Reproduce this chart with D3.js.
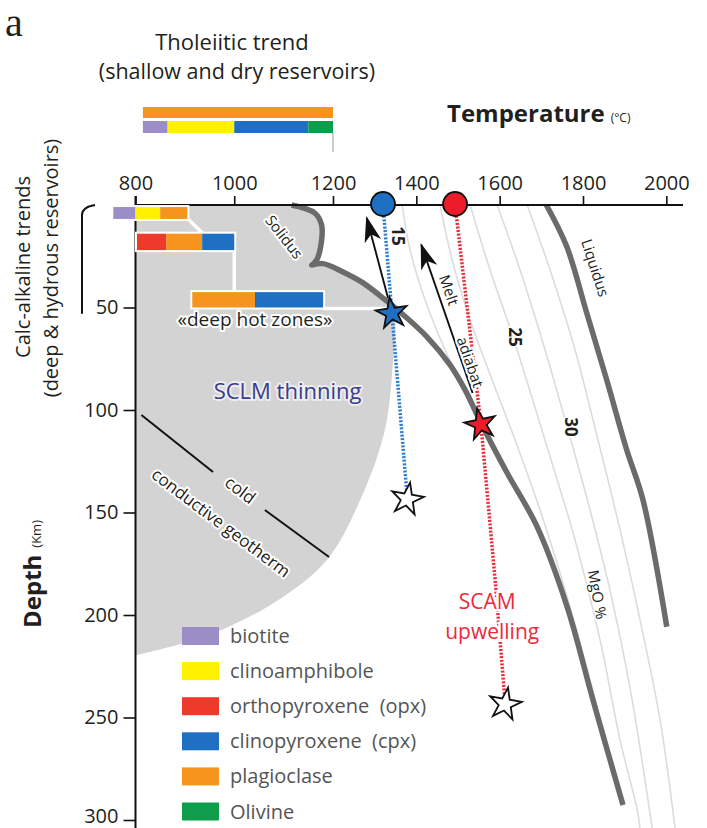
<!DOCTYPE html>
<html><head><meta charset="utf-8">
<script src="https://cdn.jsdelivr.net/npm/d3@7/dist/d3.min.js"></script>
<style>
body{margin:0;background:#fff;}
svg{display:block;font-family:"Open Sans",sans-serif;}
</style></head><body>
<svg id="chart" width="707" height="828"></svg>
<script>
// ---------------- DATA ----------------
const tempTicks = [800, 1000, 1200, 1400, 1600, 1800, 2000];
const depthTicks = [50, 100, 150, 200, 250, 300];

const minerals = ["biotite", "clinoamphibole", "orthopyroxene  (opx)", "clinopyroxene  (cpx)", "plagioclase", "Olivine"];
const mineralColors = ["#9b8ec6", "#fff100", "#ee3a2a", "#1f6fc3", "#f7941d", "#0e9d4b"];

// Tholeiitic trend bars: [mineral index, T start, T end]
const tholeiiticRow1 = [[4, 815, 1200]];
const tholeiiticRow2 = [[0, 815, 865], [1, 865, 1000], [3, 1000, 1150], [5, 1150, 1200]];

// Calc-alkaline bars (depth range in km, segments [mineral, T0, T1])
const calcBarDepths = [[1, 6.8], [14, 22], [42.5, 50]];
const calcBarSegments = [
  [[0, 755, 800], [1, 800, 850], [4, 850, 905]],
  [[2, 803, 862], [4, 862, 935], [3, 935, 1000]],
  [[4, 915, 1042], [3, 1042, 1180]]
];
// white connectors between bars [T, depth]
const connector1 = [[905, 6.5], [935, 13.5]];
const connector2 = [[1000, 22], [1000, 42.5]];
const connector3 = [[1180, 50.5], [1341, 50.5]];

// Solidus [T, depth]: upper branch down to the kink, then the deep branch
const solidusUpper = [[1116, 0], [1163, 3.9], [1177, 9.8], [1175, 20.3], [1167, 26.8], [1157, 29.3]];
const solidusLower = [[1157, 29.3], [1180, 28.6], [1224, 32.7], [1272, 38.0], [1320, 45.4], [1361, 52.2],
  [1426, 64.4], [1481, 78], [1517, 90.2], [1555, 106.3], [1618, 130.7], [1690, 157], [1762, 196],
  [1824, 241.5], [1896, 292.7]];
// Liquidus
const liquidus = [[1712, 0], [1761, 20.3], [1809, 52.7], [1857, 85.4], [1905, 119.5], [1944, 143.9], [2001, 205.7]];

// SCLM (grey) region lower boundary, from solidus crossing down to the axis
const sclmBoundary = [[1345, 51], [1343, 79], [1323, 111], [1265, 144], [1188, 173], [1087, 193], [957, 209], [829, 218], [800, 219.5]];

// MgO isopleths (faint)
const isoA = [[1366, 0], [1385, 22], [1421, 46.3], [1469, 70.7], [1486, 78]];
const isoB = [[1457, 0], [1486, 26.8], [1529, 56.1], [1582, 85.4], [1637, 114.6], [1697, 148.8], [1757, 187.8], [1817, 231.7], [1841, 251.2]];
const isoC = [[1529, 0], [1577, 31.7], [1632, 64.4], [1716, 119.5], [1781, 163.4], [1841, 212.2], [1889, 261], [1930, 295], [1937, 304]];
const isoD = [[1594, 0], [1649, 31.7], [1709, 70.7], [1762, 108.3], [1817, 148.8], [1870, 192.7], [1918, 241.5], [1956, 290.2], [1966, 304]];
const isoE = [[1666, 0], [1721, 31.7], [1781, 70.7], [1836, 114.6], [1889, 158.5], [1937, 202.4], [1985, 251.2], [2021, 304]];

// cold conductive geotherm segments
const geothermSeg1 = [[812, 102.4], [957, 130.2]];
const geothermSeg2 = [[1062, 148.8], [1192, 171.7]];

// SCLM thinning (blue) and SCAM upwelling (red) paths
const bluePath = [[1320, 0], [1378, 142.4]];
const redPath = [[1493, 0], [1555, 107], [1590, 185], [1612, 240]];
const blueCircle = [1320, 0], redCircle = [1493, 0];
const blueStar = [1341, 52.8], redStar = [1554, 107], whiteStar1 = [1378, 143.5], whiteStar2 = [1613, 243.5];

// melt adiabat arrows [from, to]
const arrow1 = [[1332, 45.4], [1281, 6.3]];
const arrow2 = [[1535, 91.7], [1412, 19.5]];

// ---------------- CHART ----------------
const svg = d3.select("#chart");
const x = d3.scaleLinear().domain([800, 1200, 2040]).range([135.5, 333, 683]);
const y = d3.scaleLinear().domain([0, 300]).range([205, 820]);
const line = d3.line().x(d => x(d[0])).y(d => y(d[1]));
const smooth = d3.line().x(d => x(d[0])).y(d => y(d[1])).curve(d3.curveCatmullRom.alpha(0.5));
const cont = p => smooth(p).replace(/^M/, "L");

const defs = svg.append("defs");
defs.append("marker").attr("id", "arrowhead").attr("viewBox", "0 -9 26 18")
  .attr("refX", 24).attr("refY", 0).attr("markerWidth", 26).attr("markerHeight", 18)
  .attr("markerUnits", "userSpaceOnUse").attr("orient", "auto")
  .append("path").attr("d", "M0,-8.5L26,0L0,8.5L7,0Z").attr("fill", "#111");

// grey SCLM region
const lowerToStar = solidusLower.filter(d => d[1] <= 46);
const regionPath = "M" + x(800) + "," + y(0) + cont(solidusUpper) + cont(lowerToStar.concat(sclmBoundary)) + "Z";
svg.append("path").attr("d", regionPath).attr("fill", "#d3d3d3");

// isopleths
[isoA, isoB, isoC, isoD, isoE].forEach(p => {
  svg.append("path").attr("d", smooth(p)).attr("fill", "none").attr("stroke", "#dcdcdc").attr("stroke-width", 1.6);
});

// solidus, liquidus
svg.append("path").attr("d", smooth(solidusUpper) + cont(solidusLower)).attr("fill", "none").attr("stroke", "#6b6b6b").attr("stroke-width", 5.5).attr("stroke-linejoin", "round");
svg.append("path").attr("d", smooth(liquidus)).attr("fill", "none").attr("stroke", "#6b6b6b").attr("stroke-width", 5.5);

// geotherm
[geothermSeg1, geothermSeg2].forEach(s => svg.append("path").attr("d", line(s)).attr("stroke", "#111").attr("stroke-width", 2));

// axes
const xAxis = d3.axisTop(x).tickValues(tempTicks).tickSize(9).tickPadding(6).tickFormat(d3.format("d"));
const gx = svg.append("g").attr("transform", `translate(0,${y(0)})`).call(xAxis);
gx.select(".domain").remove();
gx.append("line").attr("x1", x(800)).attr("x2", x(2040)).attr("y1", 0).attr("y2", 0).attr("stroke", "#111").attr("stroke-width", 2);
gx.selectAll(".tick line").attr("stroke", "#111").attr("stroke-width", 1.6);
gx.selectAll(".tick text").attr("font-size", 20).attr("fill", "#231f20").attr("font-family", "Open Sans");

const yAxis = d3.axisLeft(y).tickValues(depthTicks).tickSize(12).tickPadding(5);
const gy = svg.append("g").attr("transform", `translate(${x(800)},0)`).call(yAxis);
gy.select(".domain").remove();
gy.append("line").attr("x1", 0).attr("x2", 0).attr("y1", y(0) - 9).attr("y2", 828).attr("stroke", "#111").attr("stroke-width", 2);
gy.selectAll(".tick line").attr("stroke", "#111").attr("stroke-width", 1.6);
gy.selectAll(".tick text").attr("font-size", 20).attr("fill", "#231f20").attr("font-family", "Open Sans")
  .attr("dy", d => d === 300 ? "0.1em" : "0.32em");

// white connectors
[connector1, connector2, connector3].forEach(c => svg.append("path").attr("d", line(c)).attr("stroke", "#fff").attr("stroke-width", 3.5).attr("fill", "none"));

// calc-alkaline bars
calcBarSegments.forEach((segs, i) => {
  const [d0, d1] = calcBarDepths[i];
  const g = svg.append("g");
  g.append("rect").attr("x", x(segs[0][1]) - 2).attr("y", y(d0) - 2)
    .attr("width", x(segs[segs.length - 1][2]) - x(segs[0][1]) + 4).attr("height", y(d1) - y(d0) + 4).attr("fill", "#fff");
  segs.forEach(s => g.append("rect").attr("x", x(s[1])).attr("y", y(d0)).attr("width", x(s[2]) - x(s[1]))
    .attr("height", y(d1) - y(d0)).attr("fill", mineralColors[s[0]]));
});

// tholeiitic bars
const thY = [107, 121], thH = [11, 12];
[tholeiiticRow1, tholeiiticRow2].forEach((row, i) => {
  row.forEach(s => svg.append("rect").attr("x", x(s[1])).attr("y", thY[i]).attr("width", x(s[2]) - x(s[1]))
    .attr("height", thH[i]).attr("fill", mineralColors[s[0]]));
});
svg.append("line").attr("x1", x(1200)).attr("x2", x(1200)).attr("y1", 133).attr("y2", 152).attr("stroke", "#999").attr("stroke-width", 1);

// dotted paths
svg.append("path").attr("d", line(bluePath)).attr("fill", "none").attr("stroke", "#2a7dd2").attr("stroke-width", 3.5).attr("stroke-dasharray", "2,1.6");
svg.append("path").attr("d", line(redPath)).attr("fill", "none").attr("stroke", "#ee2a36").attr("stroke-width", 3.5).attr("stroke-dasharray", "2,1.6");

// arrows
[arrow1, arrow2].forEach(a => svg.append("path").attr("d", line(a)).attr("stroke", "#111").attr("stroke-width", 1.9).attr("fill", "none").attr("marker-end", "url(#arrowhead)"));

// circles
svg.append("circle").attr("cx", x(blueCircle[0])).attr("cy", y(blueCircle[1]) - 1).attr("r", 12).attr("fill", "#1f6fc3").attr("stroke", "#111").attr("stroke-width", 1.8);
svg.append("circle").attr("cx", x(redCircle[0])).attr("cy", y(redCircle[1]) - 1).attr("r", 12).attr("fill", "#ec1c2a").attr("stroke", "#111").attr("stroke-width", 1.8);

// stars
const star = d3.symbol().type(d3.symbolStar).size(300);
const starBig = d3.symbol().type(d3.symbolStar).size(320);
function drawStar(p, fill, sym, rot) {
  svg.append("path").attr("d", sym()).attr("transform", `translate(${x(p[0])},${y(p[1])}) rotate(${rot})`)
    .attr("fill", fill).attr("stroke", "#111").attr("stroke-width", 1.8).attr("stroke-linejoin", "miter");
}
drawStar(blueStar, "#1f6fc3", star, -8);
drawStar(redStar, "#ec1c2a", star, -12);
drawStar(whiteStar1, "#fff", starBig, 10);
drawStar(whiteStar2, "#fff", starBig, 10);

// ---------------- LABELS ----------------
function label(T, d, txt, o) {
  const t = svg.append("text").attr("transform", `translate(${x(T)},${y(d)}) rotate(${o.rot || 0})`)
    .attr("text-anchor", o.anchor || "middle").attr("dy", "0.35em")
    .attr("font-size", o.size || 15).attr("font-weight", o.weight || "normal")
    .attr("fill", o.fill || "#231f20").text(txt);
  if (o.halo) t.attr("stroke", "#fff").attr("stroke-width", o.halo).attr("paint-order", "stroke").attr("stroke-linejoin", "round").attr("stroke-opacity", o.haloOp || 1);
  return t;
}
label(1101, 15.6, "Solidus", {rot: 52, size: 15, halo: 4});
label(1356, 15.1, "15", {rot: 90, size: 17, weight: "bold", halo: 3});
label(1637, 64.4, "25", {rot: 90, size: 17, weight: "bold", halo: 3});
label(1771, 108.3, "30", {rot: 90, size: 17, weight: "bold", halo: 3});
label(1829, 30.7, "Liquidus", {rot: 72, size: 15, halo: 3});
label(1834, 190, "MgO %", {rot: 80, size: 15, halo: 3});
label(1478, 41.5, "Melt", {rot: 71, size: 15, halo: 4});
label(1529, 76.6, "adiabat", {rot: 71, size: 15, halo: 4});
label(1108, 90.7, "SCLM thinning", {size: 22, fill: "#3b3b8f", halo: 4, haloOp: 0.6});
label(1042, 55.6, "\u00abdeep hot zones\u00bb", {size: 19, halo: 4});
label(1012, 139, "cold", {rot: 37, size: 17, halo: 4});
label(973, 155, "conductive geotherm", {rot: 37, size: 17, halo: 4});
label(1570, 193.7, "SCAM", {size: 21, fill: "#ec2a3a", halo: 5});
label(1582, 208.3, "upwelling", {size: 21, fill: "#ec2a3a", halo: 5});

// titles
svg.append("text").attr("x", 5).attr("y", 36).attr("font-family", "Liberation Serif, Times New Roman, serif").attr("font-size", 40).attr("fill", "#231f20").text("a");
svg.append("text").attr("x", 232).attr("y", 50).attr("text-anchor", "middle").attr("font-size", 22).attr("fill", "#231f20").text("Tholeiitic trend");
svg.append("text").attr("x", 237).attr("y", 79).attr("text-anchor", "middle").attr("font-size", 21.5).attr("fill", "#231f20").text("(shallow and dry reservoirs)");
const tt = svg.append("text").attr("x", 447).attr("y", 122).attr("fill", "#231f20");
tt.append("tspan").attr("font-size", 24).attr("font-weight", "bold").text("Temperature");
tt.append("tspan").attr("font-size", 12).attr("dx", 6).text("(\u00b0C)");

svg.append("text").attr("transform", "translate(30,267) rotate(-90)").attr("text-anchor", "middle").attr("font-size", 20).attr("fill", "#231f20").text("Calc-alkaline trends");
svg.append("text").attr("transform", "translate(58,268) rotate(-90)").attr("text-anchor", "middle").attr("font-size", 20).attr("fill", "#231f20").text("(deep & hydrous reservoirs)");
const dt = svg.append("text").attr("transform", "translate(41,628) rotate(-90)").attr("fill", "#231f20");
dt.append("tspan").attr("font-size", 24).attr("font-weight", "bold").text("Depth");
dt.append("tspan").attr("font-size", 13).attr("dx", 7).text("(Km)");

// bracket
svg.append("path").attr("d", `M95,${y(0)} Q82,${y(0) + 2} 82,${y(5)} L82,${y(53)}`).attr("fill", "none").attr("stroke", "#111").attr("stroke-width", 2);

// legend
const lg = svg.append("g").attr("transform", "translate(182,627)");
minerals.forEach((m, i) => {
  lg.append("rect").attr("x", 0).attr("y", i * 35.1).attr("width", 37).attr("height", 18).attr("fill", mineralColors[i]);
  lg.append("text").attr("x", 48).attr("y", i * 35.1 + 9).attr("dy", "0.35em").attr("font-size", 20).attr("fill", "#555").attr("xml:space", "preserve").style("white-space", "pre").text(m);
});
</script>
</body></html>
